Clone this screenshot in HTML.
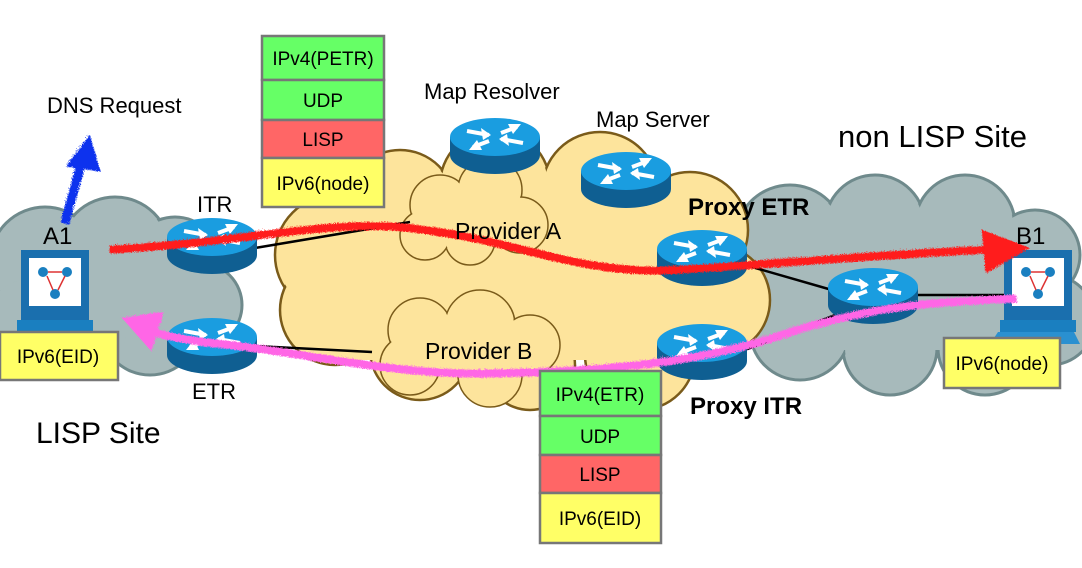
<!DOCTYPE html>
<html><head><meta charset="utf-8"><style>
body{margin:0;background:#fff}
svg{display:block;font-family:"Liberation Sans",sans-serif}
</style></head><body>
<svg width="1082" height="568" viewBox="0 0 1082 568" xmlns="http://www.w3.org/2000/svg">
<defs>
<g id="rt">
  <path d="M-45,0 L-45,18 A45,19 0 0 0 45,18 L45,0 Z" fill="#0f5f92"/>
  <ellipse cx="0" cy="0" rx="45" ry="19" fill="#1a9de0"/>
  <g stroke="#fff" stroke-width="4" fill="#fff">
    <path d="M-28,-6 L-6,-2" /><path d="M6,2 L28,6"/><path d="M6,-4 L22,-10"/><path d="M-6,4 L-22,10"/>
  </g>
  <polygon points="-4,-2 -14,-9 -12,3" fill="#fff"/>
  <polygon points="4,2 14,9 12,-3" fill="#fff"/>
  <polygon points="26,-13 13,-13 18,-3" fill="#fff"/>
  <polygon points="-26,13 -13,13 -18,3" fill="#fff"/>
</g>
<g id="pc">
  <rect x="-36" y="-44" width="68" height="72" fill="#1a6fae"/>
  <rect x="-28" y="-36" width="52" height="48" fill="#fff"/>
  <rect x="-40" y="26" width="76" height="12" fill="#1a7fc0"/>
  <polygon points="-50,50 40,50 34,38 -42,38" fill="#2a90d0"/>
  <circle cx="-14" cy="-22" r="5" fill="#1a7fc0"/><circle cx="10" cy="-22" r="5" fill="#1a7fc0"/><circle cx="-2" cy="0" r="5" fill="#1a7fc0"/>
  <path d="M-9,-22 L5,-22 M-10,-18 L-4,-4 M8,-18 L1,-4" stroke="#d33" stroke-width="1.5"/>
</g>
<filter id="fz"><feTurbulence baseFrequency="0.9" numOctaves="1" result="n"/><feDisplacementMap in="SourceGraphic" in2="n" scale="5"/></filter>
</defs>

<!-- left gray cloud -->
<g stroke="#6f8a8c" stroke-width="3" fill="#a7babb">
 <circle cx="45" cy="262" r="55"/><circle cx="115" cy="252" r="55"/><circle cx="175" cy="262" r="45"/><circle cx="200" cy="305" r="42"/><circle cx="150" cy="325" r="50"/><circle cx="80" cy="330" r="48"/><circle cx="30" cy="322" r="45"/>
</g>
<g fill="#a7babb">
 <circle cx="45" cy="262" r="53"/><circle cx="115" cy="252" r="53"/><circle cx="175" cy="262" r="43"/><circle cx="200" cy="305" r="40"/><circle cx="150" cy="325" r="48"/><circle cx="80" cy="330" r="46"/><circle cx="30" cy="322" r="43"/><rect x="40" y="260" width="160" height="70"/>
</g>
<!-- right gray cloud -->
<g stroke="#6f8a8c" stroke-width="3" fill="#a7babb">
 <circle cx="790" cy="240" r="55"/><circle cx="875" cy="225" r="50"/><circle cx="965" cy="225" r="50"/><circle cx="1035" cy="255" r="45"/><circle cx="1050" cy="320" r="45"/><circle cx="985" cy="348" r="47"/><circle cx="890" cy="348" r="47"/><circle cx="800" cy="330" r="50"/><circle cx="770" cy="290" r="42"/>
</g>
<g fill="#a7babb">
 <circle cx="790" cy="240" r="53"/><circle cx="875" cy="225" r="48"/><circle cx="965" cy="225" r="48"/><circle cx="1035" cy="255" r="43"/><circle cx="1050" cy="320" r="43"/><circle cx="985" cy="348" r="45"/><circle cx="890" cy="348" r="45"/><circle cx="800" cy="330" r="48"/><circle cx="770" cy="290" r="40"/><rect x="790" y="240" width="250" height="110"/>
</g>
<!-- orange cloud -->
<g stroke="#7a5b1a" stroke-width="2.5" fill="#fde49c">
 <circle cx="335" cy="255" r="60"/><circle cx="400" cy="205" r="55"/><circle cx="495" cy="185" r="55"/><circle cx="600" cy="190" r="58"/><circle cx="690" cy="230" r="58"/><circle cx="715" cy="300" r="55"/><circle cx="640" cy="355" r="55"/><circle cx="530" cy="365" r="45"/><circle cx="420" cy="350" r="50"/><circle cx="335" cy="310" r="55"/>
</g>
<g fill="#fde49c">
 <circle cx="335" cy="255" r="58"/><circle cx="400" cy="205" r="53"/><circle cx="495" cy="185" r="53"/><circle cx="600" cy="190" r="56"/><circle cx="690" cy="230" r="56"/><circle cx="715" cy="300" r="53"/><circle cx="640" cy="355" r="53"/><circle cx="530" cy="365" r="43"/><circle cx="420" cy="350" r="48"/><circle cx="335" cy="310" r="53"/><rect x="340" y="200" width="360" height="160"/>
</g>
<!-- provider A cloud -->
<g stroke="#7a5b1a" stroke-width="1.5" fill="#fde49c">
 <circle cx="440" cy="205" r="30"/><circle cx="490" cy="190" r="32"/><circle cx="520" cy="225" r="28"/><circle cx="470" cy="240" r="25"/><circle cx="425" cy="235" r="25"/>
</g>
<g fill="#fde49c"><circle cx="440" cy="205" r="29"/><circle cx="490" cy="190" r="31"/><circle cx="520" cy="225" r="27"/><circle cx="470" cy="240" r="24"/><circle cx="425" cy="235" r="24"/><rect x="430" y="200" width="80" height="40"/></g>
<!-- provider B cloud -->
<g stroke="#7a5b1a" stroke-width="1.5" fill="#fde49c">
 <circle cx="420" cy="330" r="32"/><circle cx="480" cy="325" r="35"/><circle cx="530" cy="345" r="30"/><circle cx="490" cy="375" r="32"/><circle cx="410" cy="365" r="30"/>
</g>
<g fill="#fde49c"><circle cx="420" cy="330" r="31"/><circle cx="480" cy="325" r="34"/><circle cx="530" cy="345" r="29"/><circle cx="490" cy="375" r="31"/><circle cx="410" cy="365" r="29"/><rect x="420" y="330" width="90" height="40"/></g>

<!-- links -->
<g stroke="#000" stroke-width="2.5">
 <line x1="255" y1="248" x2="410" y2="222"/>
 <line x1="255" y1="346" x2="372" y2="352"/>
 <line x1="745" y1="265" x2="832" y2="290"/>
 <line x1="745" y1="350" x2="835" y2="315"/>
 <line x1="915" y1="295" x2="1005" y2="295"/>
</g>

<!-- routers -->
<use href="#rt" x="212" y="237"/>
<use href="#rt" x="212" y="337"/>
<use href="#rt" x="495" y="137"/>
<use href="#rt" x="626" y="171"/>
<use href="#rt" x="702" y="249"/>
<use href="#rt" x="702" y="343"/>
<use href="#rt" x="873" y="287"/>

<!-- PCs -->
<use href="#pc" x="57" y="294"/>
<use href="#pc" x="1040" y="294"/>

<!-- arrows -->
<g filter="url(#fz)">
 <path d="M108,248 C250,240 340,215 420,228 C520,240 580,275 680,268 C800,260 900,252 985,248" fill="none" stroke="#ff1a1a" stroke-width="8"/>
 <polygon points="980,228 1028,246 984,272" fill="#ff1a1a"/>
 <path d="M1015,297 C930,300 870,305 790,330 C700,362 600,370 480,372 C380,372 300,350 215,342 C180,338 160,333 150,330" fill="none" stroke="#ff66e6" stroke-width="8"/>
 <polygon points="120,316 162,310 150,350" fill="#ff66e6"/>
 <path d="M63,222 L80,160" fill="none" stroke="#1133ee" stroke-width="9"/>
 <polygon points="64,165 88,133 99,170" fill="#1133ee"/>
</g>

<!-- stacks -->
<g stroke="#777" stroke-width="2.5">
 <rect x="262" y="36" width="122" height="44" fill="#66ff66"/>
 <rect x="262" y="80" width="122" height="40" fill="#66ff66"/>
 <rect x="262" y="120" width="122" height="38" fill="#ff6666"/>
 <rect x="262" y="158" width="122" height="49" fill="#ffff66"/>
 <rect x="540" y="371" width="121" height="45" fill="#66ff66"/>
 <rect x="540" y="416" width="121" height="39" fill="#66ff66"/>
 <rect x="540" y="455" width="121" height="38" fill="#ff6666"/>
 <rect x="540" y="493" width="121" height="50" fill="#ffff66"/>
 <rect x="0" y="332" width="118" height="48" fill="#ffff66"/>
 <rect x="944" y="338" width="116" height="50" fill="#ffff66"/>
</g>
<g font-size="19" text-anchor="middle" fill="#000">
 <text x="323" y="65">IPv4(PETR)</text>
 <text x="323" y="107">UDP</text>
 <text x="323" y="146">LISP</text>
 <text x="323" y="190">IPv6(node)</text>
 <text x="600" y="401">IPv4(ETR)</text>
 <text x="600" y="443">UDP</text>
 <text x="600" y="481">LISP</text>
 <text x="600" y="525">IPv6(EID)</text>
 <text x="58" y="363">IPv6(EID)</text>
 <text x="1002" y="370">IPv6(node)</text>
</g>
<g font-size="22" fill="#000">
 <text x="47" y="113">DNS Request</text>
 <text x="424" y="99">Map Resolver</text>
 <text x="596" y="127">Map Server</text>
 <text x="197" y="212">ITR</text>
 <text x="192" y="399">ETR</text>
 <text x="43" y="244" font-size="24">A1</text>
 <text x="1016" y="244" font-size="24">B1</text>
 <text x="455" y="239" font-size="23">Provider A</text>
 <text x="425" y="359" font-size="23">Provider B</text>
 <text x="36" y="443" font-size="30">LISP Site</text>
 <text x="838" y="147" font-size="31">non LISP Site</text>
 <text x="688" y="215" font-size="24" font-weight="bold">Proxy ETR</text>
 <text x="690" y="414" font-size="24" font-weight="bold">Proxy ITR</text>
</g>
</svg>
</body></html>
